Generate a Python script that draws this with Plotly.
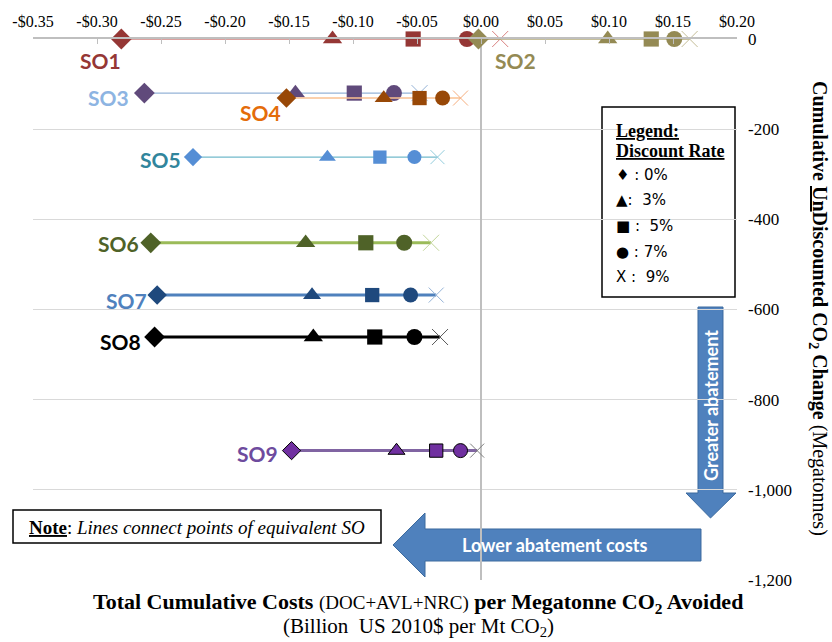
import plotly.graph_objects as go

# x = cost per Mt CO2 avoided (billion US 2010$), y = cumulative undiscounted CO2 change (Mt)
# point order in each list: 0%, 3%, 5%, 7%, 9% discount rate
scenarios = ["SO1", "SO2", "SO3", "SO4", "SO5", "SO6", "SO7", "SO8", "SO9"]
cost = {
    "SO1": [-0.281, -0.116, -0.053, -0.011, 0.015],
    "SO2": [-0.002, 0.099, 0.133, 0.151, 0.163],
    "SO3": [-0.263, -0.145, -0.099, -0.068, -0.048],
    "SO4": [-0.152, -0.076, -0.048, -0.030, -0.016],
    "SO5": [-0.225, -0.120, -0.079, -0.052, -0.034],
    "SO6": [-0.258, -0.137, -0.090, -0.060, -0.039],
    "SO7": [-0.253, -0.132, -0.085, -0.055, -0.035],
    "SO8": [-0.255, -0.131, -0.083, -0.052, -0.032],
    "SO9": [-0.148, -0.066, -0.035, -0.016, -0.003],
}
co2_change = {
    "SO1": 0, "SO2": 0, "SO3": -120, "SO4": -131, "SO5": -262,
    "SO6": -452, "SO7": -568, "SO8": -661, "SO9": -913,
}
discount_rates = ["0%", "3%", "5%", "7%", "9%"]

x_ticks = [-0.35, -0.30, -0.25, -0.20, -0.15, -0.10, -0.05, 0.0, 0.05, 0.10, 0.15, 0.20]
x_tick_text = ["-$0.35", "-$0.30", "-$0.25", "-$0.20", "-$0.15", "-$0.10", "-$0.05",
               "$0.00", "$0.05", "$0.10", "$0.15", "$0.20"]
y_ticks = [0, -200, -400, -600, -800, -1000, -1200]
y_tick_text = ["0", "-200", "-400", "-600", "-800", "-1,000", "-1,200"]

# styles: marker colour, line colour, X colour, label colour, line width, marker size, marker outline
style = {
    "SO1": ("#953735", "#D0807E", "#D9827F", "#953735", 1.5, 16, None),
    "SO2": ("#948A54", "#B3AA78", "#C4BD97", "#948A54", 1.5, 16, None),
    "SO3": ("#604A7B", "#95B3D7", "#95B3D7", "#8DB4E2", 1.2, 16, None),
    "SO4": ("#984807", "#FAC090", "#F6AE7E", "#E46C0A", 1.5, 15, None),
    "SO5": ("#558ED5", "#72BACB", "#93CDDD", "#31859C", 1.2, 14, None),
    "SO6": ("#4F6228", "#9BBB59", "#C3D69B", "#4F6228", 3, 16, None),
    "SO7": ("#1F497D", "#4F81BD", "#95B3D7", "#4F81BD", 3, 15, None),
    "SO8": ("#000000", "#000000", "#595959", "#000000", 3, 16, None),
    "SO9": ("#7030A0", "#8064A2", "#7F7F7F", "#6E4B9E", 3, 14, "#000000"),
}
# label positions in pixels of the picture
label_px = {
    "SO1": (100, 61), "SO2": (515, 61), "SO3": (108, 97), "SO4": (260, 112),
    "SO5": (160, 159), "SO6": (118, 243), "SO7": (126, 300), "SO8": (120, 341),
    "SO9": (257, 453),
}

L, T, W, H = 33, 39, 704, 541


def px(x):
    return (x - L) / W


def py(y):
    return (T + H - y) / H


def note(x, y, text, size, family, color="black", **kw):
    d = dict(x=px(x), y=py(y), xref="paper", yref="paper", text=text, showarrow=False,
             xanchor="center", yanchor="middle",
             font=dict(family=family, size=size, color=color))
    d.update(kw)
    return d


symbols = ["diamond", "triangle-up", "square", "circle", "x-thin-open"]

fig = go.Figure()
for so in scenarios:
    mc, lc, xc, tc, lw, ms, oc = style[so]
    xs = cost[so]
    ys = [co2_change[so]] * len(xs)
    sizes = [ms * 1.0, ms * 1.05, ms * 0.95, ms, ms]
    fig.add_trace(go.Scatter(
        x=xs, y=ys, mode="lines", line=dict(color=lc, width=lw),
        hoverinfo="skip", showlegend=False, cliponaxis=False))
    fig.add_trace(go.Scatter(
        x=xs, y=ys, mode="markers", name=so,
        text=discount_rates,
        marker=dict(symbol=symbols, size=sizes, opacity=1,
                    color=[mc, mc, mc, mc, xc],
                    line=dict(color=[oc or mc] * 4 + [xc],
                              width=[1 if oc else 0] * 4 + [1])),
        showlegend=False, cliponaxis=False))

serif = "Liberation Serif"
annotations = []
for so in scenarios:
    lx, ly = label_px[so]
    annotations.append(note(lx, ly, "<b>" + so + "</b>", 21, "Lato", style[so][3]))

# legend box text
leg_lines = [("<b><u>Legend:</u></b>", 131, serif, 18),
             ("<b><u>Discount Rate</u></b>", 151, serif, 18),
             ("\u2666 : 0%", 175, "DejaVu Sans", 15),
             ("\u25B2:  3%", 200, "DejaVu Sans", 15),
             ("\u25A0 :  5%", 226, "DejaVu Sans", 15),
             ("\u25CF : 7%", 252, "DejaVu Sans", 15),
             ("X :  9%", 277, "DejaVu Sans", 15)]
for txt, y, fam, sz in leg_lines:
    annotations.append(note(614, y, txt, sz, fam, xanchor="left"))

annotations += [
    note(197, 527, "<b><u>Note</u></b>: <i>Lines connect points of equivalent SO</i>", 19, serif),
    note(711, 406, "<b>Greater abatement</b>", 18, "Lato", "white", textangle=-90),
    note(555, 545, "<b>Lower abatement costs</b>", 18, "Lato", "white"),
    note(418, 603, "<b>Total Cumulative Costs</b> <span style='font-size:19px'>(DOC+AVL+NRC)</span> "
                   "<b>per Megatonne CO<sub>2</sub> Avoided</b>", 22, serif),
    note(418, 627, "(Billion  US 2010$ per Mt CO<sub>2</sub>)", 21, serif),
    note(819, 308, "<b>Cumulative <u>Un</u>Discounted CO<sub>2</sub> Change</b> (Megatonnes)",
         20, serif, textangle=90),
]


def path(points):
    return "M " + " L ".join(f"{px(a):.5f},{py(b):.5f}" for a, b in points) + " Z"


shapes = [
    dict(type="rect", xref="paper", yref="paper", x0=px(602), x1=px(735), y0=py(107), y1=py(297),
         line=dict(color="black", width=1.5), fillcolor="white", layer="below"),
    dict(type="rect", xref="paper", yref="paper", x0=px(13), x1=px(381), y0=py(510), y1=py(543),
         line=dict(color="black", width=1.5), fillcolor="white"),
    dict(type="path", xref="paper", yref="paper",
         path=path([(698, 307), (723, 307), (723, 493), (736, 493), (710.5, 518),
                    (686, 493), (698, 493)]),
         fillcolor="#4F81BD", line=dict(color="#3C6A9E", width=1), layer="below"),
    dict(type="path", xref="paper", yref="paper",
         path=path([(701, 529), (701, 561), (425, 561), (425, 577), (393, 545),
                    (425, 513), (425, 529)]),
         fillcolor="#4F81BD", line=dict(color="#3C6A9E", width=1), layer="below"),
]

fig.update_layout(
    width=832, height=642,
    margin=dict(l=L, r=832 - L - W, t=T, b=642 - T - H),
    paper_bgcolor="white", plot_bgcolor="white",
    showlegend=False,
    annotations=annotations, shapes=shapes,
    xaxis=dict(range=[-0.35, 0.20], side="top", tickvals=x_ticks, ticktext=x_tick_text,
               showgrid=False, zeroline=True, zerolinecolor="#BFBFBF", zerolinewidth=1.5,
               showline=True, linecolor="#BFBFBF", linewidth=1.5,
               ticks="inside", ticklen=5, tickcolor="#BFBFBF", automargin=False,
               ticklabelstandoff=4,
               tickfont=dict(family=serif, size=16, color="black"), fixedrange=True),
    yaxis=dict(range=[-1200, 0], side="right", tickvals=y_ticks, ticktext=y_tick_text,
               showgrid=True, gridcolor="#D9D9D9", gridwidth=1, zeroline=False,
               showline=False, ticks="", ticklabelstandoff=10, automargin=False,
               tickfont=dict(family=serif, size=17, color="black"), fixedrange=True),
)

fig.write_html("out.html", config={"displayModeBar": False},
               post_script="document.body.style.margin='0';")
